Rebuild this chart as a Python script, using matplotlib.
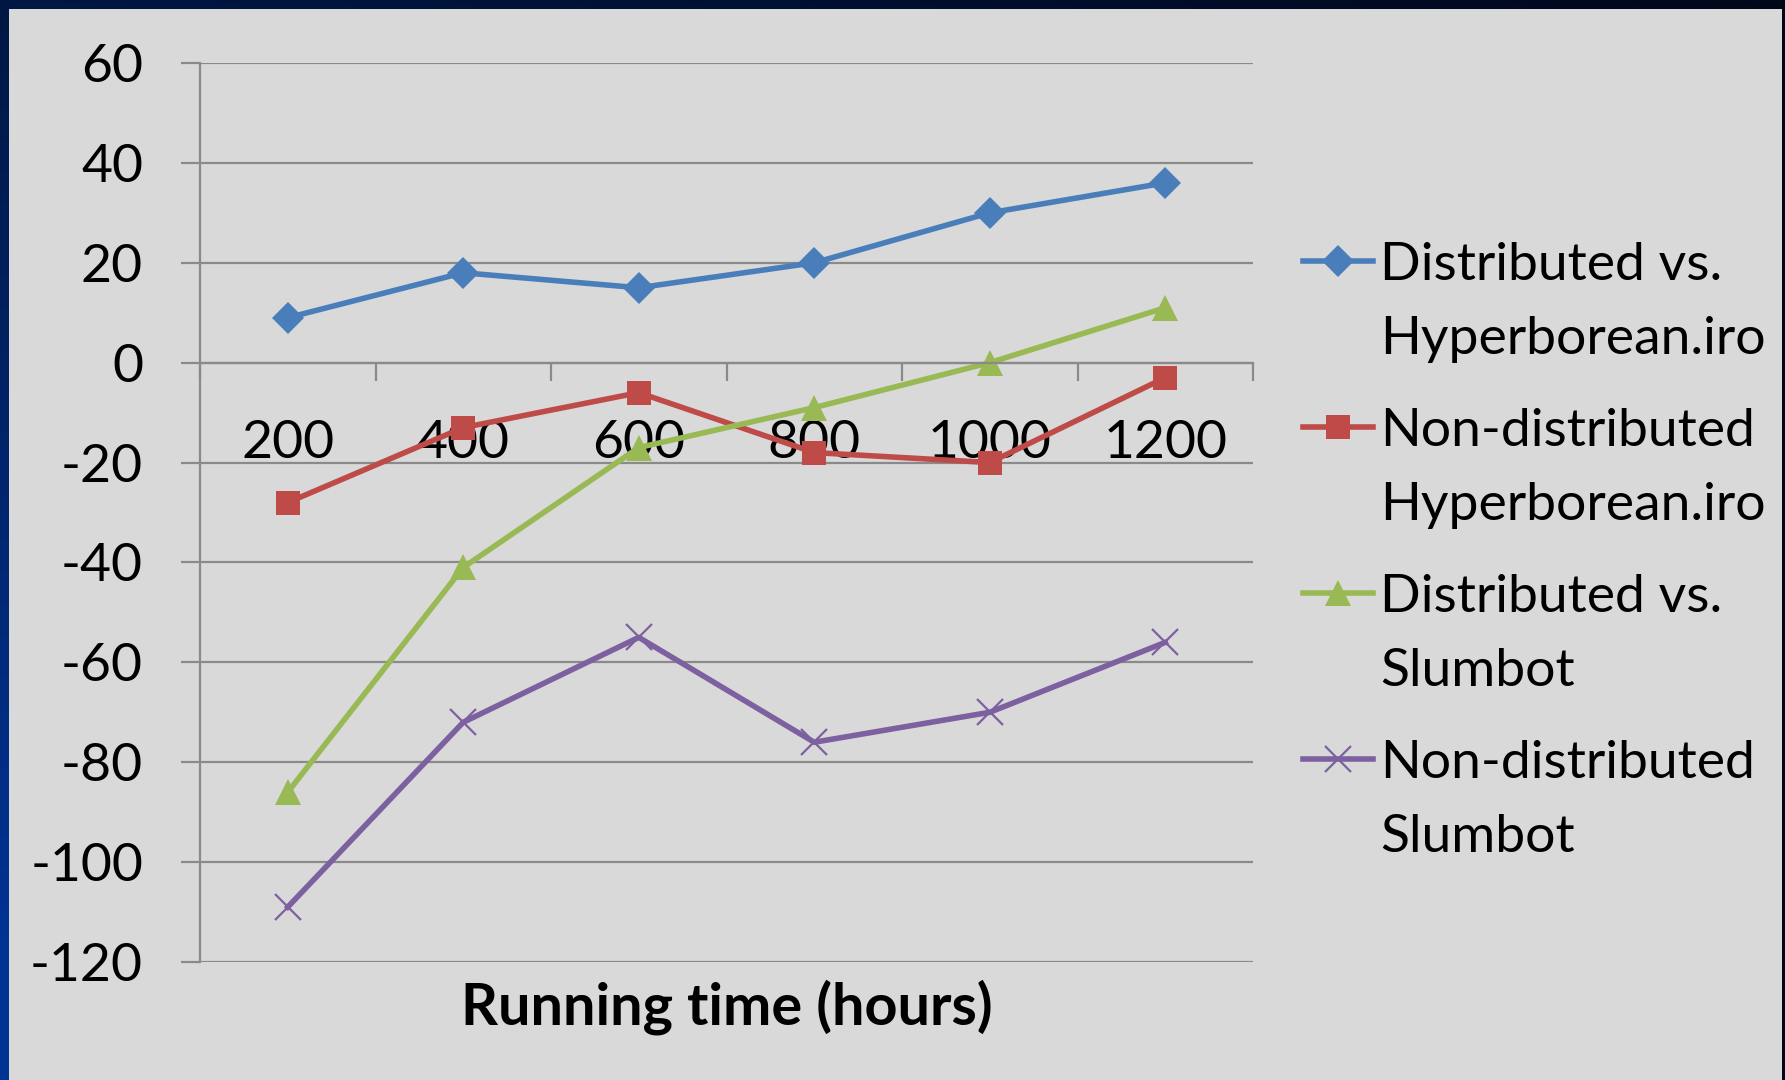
import numpy as np
import matplotlib

matplotlib.use("Agg")
import matplotlib.pyplot as plt
from matplotlib.lines import Line2D
from matplotlib.patches import Rectangle

# ── Data ─────────────────────────────────────────────────────────────────
hours = ["200", "400", "600", "800", "1000", "1200"]
dist_vs_hyper = [9, 18, 15, 20, 30, 36]
nondist_vs_hyper = [-28, -13, -6, -18, -20, -3]
dist_vs_slumbot = [-86, -41, -17, -9, 0, 11]
nondist_vs_slumbot = [-109, -72, -55, -76, -70, -56]

series_labels = [
    "Distributed vs.\nHyperborean.iro",
    "Non-distributed\nHyperborean.iro",
    "Distributed vs.\nSlumbot",
    "Non-distributed\nSlumbot",
]
y_ticks = [60, 40, 20, 0, -20, -40, -60, -80, -100, -120]

W, H = 1785, 1080
FS = 38.5
plt.rcParams["font.family"] = ["Lato", "DejaVu Sans"]
plt.rcParams["axes.unicode_minus"] = False

fig = plt.figure(figsize=(W / 100, H / 100), dpi=100)


def fx(px):
    return px / W


def fy(py):
    return 1 - py / H


# slide background: dark navy gradient with the grey chart panel on top
bg = fig.add_axes([0, 0, 1, 1])
gx, gy = np.meshgrid(np.linspace(0, 1, 200), np.linspace(0, 1, 200))
t = np.clip(0.75 * gy + 0.35 * (1 - gx), 0, 1)  # gy=1 at bottom (origin upper)
dark = np.array([0.0, 0.03, 0.10])
blue = np.array([0.0, 0.20, 0.58])
img = dark[None, None, :] * (1 - t[..., None]) + blue[None, None, :] * t[..., None]
bg.imshow(img, extent=[0, 1, 0, 1], origin="upper", aspect="auto")
bg.add_patch(Rectangle((fx(9), 0), fx(1782 - 9), fy(9), color="#d9d9d9", lw=0))
bg.set_xlim(0, 1)
bg.set_ylim(0, 1)
bg.axis("off")

# ── Chart ────────────────────────────────────────────────────────────────
ax = fig.add_axes([fx(200), fy(962), fx(1253 - 200), fy(63) - fy(962)])
ax.set_facecolor("none")

x = np.arange(len(hours))
colors = ["#4a7ebb", "#be4b48", "#98b954", "#7d60a0"]
markers = ["D", "s", "^", "x"]
msizes = [16, 17, 19, 19]
series = [dist_vs_hyper, nondist_vs_hyper, dist_vs_slumbot, nondist_vs_slumbot]
LW = 4.0

for vals, c, m, ms in zip(series, colors, markers, msizes):
    ax.plot(x, vals, color=c, lw=LW, marker=m, markersize=ms,
            markeredgewidth=1.6 if m == "x" else 0, markeredgecolor=c, zorder=2)

grid_col = "#8a8a8a"
for yv in y_ticks:
    ax.axhline(yv, color=grid_col, lw=1.6, zorder=1)

ax.set_xlim(-0.5, len(hours) - 0.5)
ax.set_ylim(-120, 60)
ax.set_yticks(y_ticks)
ax.tick_params(axis="y", length=14, width=1.6, color=grid_col, pad=27,
               labelsize=FS)

for side in ["top", "right"]:
    ax.spines[side].set_visible(False)
ax.spines["left"].set_color(grid_col)
ax.spines["left"].set_linewidth(1.6)
ax.spines["bottom"].set_position(("data", 0))
ax.spines["bottom"].set_color(grid_col)
ax.spines["bottom"].set_linewidth(1.6)

# tick marks at category boundaries, labels at category centres
ax.set_xticks(np.arange(len(hours) + 1) - 0.5)
ax.set_xticklabels([])
ax.tick_params(axis="x", which="major", length=13, width=1.6, color=grid_col)
ax.set_xticks(x, minor=True)
ax.set_xticklabels(hours, minor=True)
ax.tick_params(axis="x", which="minor", length=0, pad=41, labelsize=FS)

fig.text(fx(727), fy(1007), "Running time (hours)", ha="center", va="center",
         fontsize=41.5, fontweight="bold")

# ── Legend (handles align with first text line, as in the original) ────
for i, (lab, c, m, ms) in enumerate(zip(series_labels, colors, markers, msizes)):
    yc = 261 + 166 * i
    fig.add_artist(Line2D([fx(1303), fx(1373)], [fy(yc), fy(yc)], color=c, lw=LW,
                          transform=fig.transFigure))
    fig.add_artist(Line2D([fx(1338)], [fy(yc)], color=c, marker=m, markersize=ms,
                          markeredgewidth=1.6 if m == "x" else 0,
                          markeredgecolor=c, transform=fig.transFigure))
    for j, line in enumerate(lab.split("\n")):
        fig.text(fx(1380), fy(280 + 166 * i + 74 * j), line, ha="left",
                 va="baseline", fontsize=FS)

# right edge of slide clips the legend text
fig.add_artist(Rectangle((fx(1782), 0), fx(3), 1, color="#000818", lw=0,
                         transform=fig.transFigure, zorder=10))

fig.savefig("out.png", dpi=100)
